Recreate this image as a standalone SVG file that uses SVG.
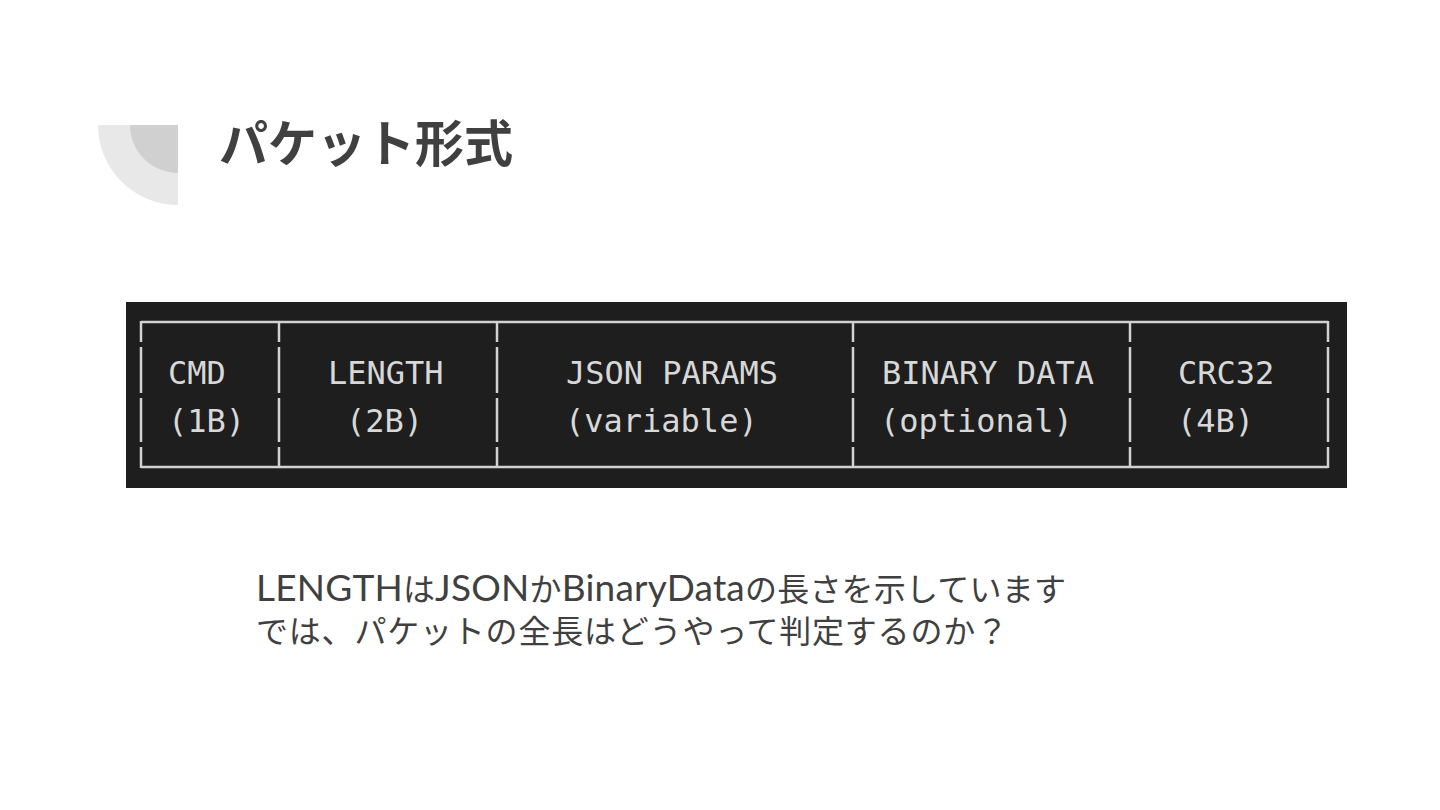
<svg xmlns="http://www.w3.org/2000/svg" width="1440" height="810" viewBox="0 0 1440 810">
  <style>
    .title { font-family: "Noto Sans CJK JP", "Noto Sans", sans-serif; font-weight: 700; font-size: 50px; fill: #404040; }
    .mono { font-family: "DejaVu Sans Mono", "Liberation Mono", monospace; font-size: 32px; fill: #d8d8d8; }
    .body { font-family: "Noto Sans CJK JP", sans-serif; font-size: 32px; fill: #404040; }
    .lat { font-family: "Lato", "Noto Sans", sans-serif; font-size: 37px; }
    .frame line { stroke: #d2d2d2; stroke-width: 2.5; }
  </style>
  <rect width="1440" height="810" fill="#ffffff"/>
  <g id="decoration">
    <path d="M178,125 L98,125 A80,80 0 0 0 178,205 Z" fill="#e8e8e8"/>
    <path d="M178,125 L130,125 A48,48 0 0 0 178,173 Z" fill="#d0d0d0"/>
  </g>
  <g id="title">
    <text class="title" x="219" y="162" textLength="294" lengthAdjust="spacingAndGlyphs">パケット形式</text>
  </g>
  <g id="packet-table">
    <rect x="126" y="302" width="1221" height="186" fill="#1e1e1e"/>
    <g class="frame">
      <line x1="141" y1="322" x2="1328" y2="322"/>
      <line x1="141" y1="467" x2="1328" y2="467"/>
      <g id="vlines">
        <line x1="141" y1="321" x2="141" y2="342"/><line x1="141" y1="347" x2="141" y2="393"/><line x1="141" y1="398" x2="141" y2="442"/><line x1="141" y1="447" x2="141" y2="468"/>
        <line x1="279" y1="321" x2="279" y2="342"/><line x1="279" y1="347" x2="279" y2="393"/><line x1="279" y1="398" x2="279" y2="442"/><line x1="279" y1="447" x2="279" y2="468"/>
        <line x1="497" y1="321" x2="497" y2="342"/><line x1="497" y1="347" x2="497" y2="393"/><line x1="497" y1="398" x2="497" y2="442"/><line x1="497" y1="447" x2="497" y2="468"/>
        <line x1="853" y1="321" x2="853" y2="342"/><line x1="853" y1="347" x2="853" y2="393"/><line x1="853" y1="398" x2="853" y2="442"/><line x1="853" y1="447" x2="853" y2="468"/>
        <line x1="1130" y1="321" x2="1130" y2="342"/><line x1="1130" y1="347" x2="1130" y2="393"/><line x1="1130" y1="398" x2="1130" y2="442"/><line x1="1130" y1="447" x2="1130" y2="468"/>
        <line x1="1328" y1="321" x2="1328" y2="342"/><line x1="1328" y1="347" x2="1328" y2="393"/><line x1="1328" y1="398" x2="1328" y2="442"/><line x1="1328" y1="447" x2="1328" y2="468"/>
      </g>
    </g>
    <g id="cell-cmd">
      <text class="mono" x="168" y="384">CMD</text>
      <text class="mono" x="168" y="432">(1B)</text>
    </g>
    <g id="cell-length">
      <text class="mono" x="328" y="384">LENGTH</text>
      <text class="mono" x="346" y="432">(2B)</text>
    </g>
    <g id="cell-json">
      <text class="mono" x="566" y="384">JSON PARAMS</text>
      <text class="mono" x="565" y="432">(variable)</text>
    </g>
    <g id="cell-binary">
      <text class="mono" x="882" y="384">BINARY DATA</text>
      <text class="mono" x="880" y="432">(optional)</text>
    </g>
    <g id="cell-crc">
      <text class="mono" x="1178" y="384">CRC32</text>
      <text class="mono" x="1177" y="432">(4B)</text>
    </g>
  </g>
  <g id="connectors"></g>
  <g id="caption">
    <text class="body" x="256" y="601" textLength="810" lengthAdjust="spacing"><tspan class="lat">LENGTH</tspan>は<tspan class="lat">JSON</tspan>か<tspan class="lat">BinaryData</tspan>の長さを示しています</text>
    <text class="body" x="256" y="643" textLength="752" lengthAdjust="spacing">では、パケットの全長はどうやって判定するのか？</text>
  </g>
</svg>
